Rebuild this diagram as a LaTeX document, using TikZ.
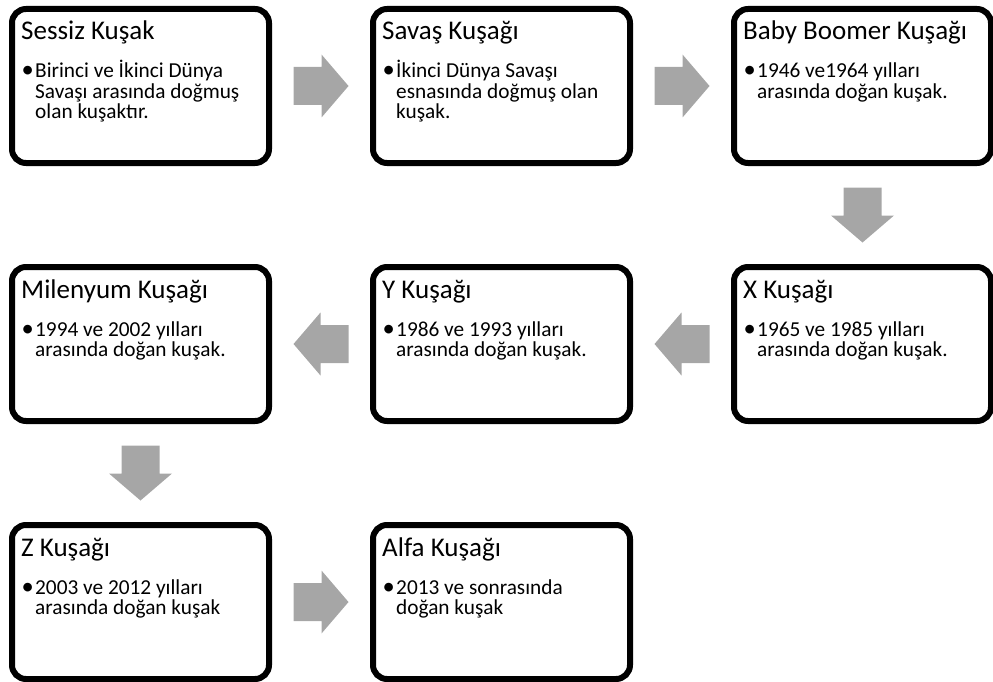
\documentclass[tikz,border=0pt]{standalone}
\usepackage{fontspec}
\setmainfont{Carlito}
\usetikzlibrary{calc}
\definecolor{arrowgray}{RGB}{166,166,166}

% block arrow between two boxes: #1 from, #2 to, #3 direction angle
\newcommand\flowarrow[3]{%
  \coordinate (#1-#2) at ($(#1)!0.5!(#2)$);
  \fill[blockarrow, shift={(#1-#2)}, rotate=#3]
    (-27.5,-19) -- (0.5,-19) -- (0.5,-31.5) -- (27.5,0)
    -- (0.5,31.5) -- (0.5,19) -- (-27.5,19) -- cycle;
}
% bulleted text block with a hanging bullet
\newcommand\bulletlines[1]{\parbox[t]{230pt}{\leavevmode\llap{\scalebox{1.15}{•}\kern1.5pt}#1}}

\begin{document}
\begin{tikzpicture}[x=1pt,y=1pt,
  genbox/.style={draw=black, fill=white, line width=6pt, rounded corners=14pt,
    minimum width=257pt, minimum height=154pt, inner sep=0pt},
  gentitle/.style={anchor=base west, inner sep=0pt, font=\fontsize{27}{32}\selectfont},
  genbody/.style={anchor=base west, inner sep=0pt, font=\fontsize{21.3}{20.3}\selectfont},
  blockarrow/.style={fill=arrowgray}]
\useasboundingbox (0,0) rectangle (993,-682);

% boxes
\node[genbox] (b1) at (140.5,-86)  {};
\node[genbox] (b2) at (501.5,-86)  {};
\node[genbox] (b3) at (862.5,-86)  {};
\node[genbox] (b4) at (862.5,-344) {};
\node[genbox] (b5) at (501.5,-344) {};
\node[genbox] (b6) at (140.5,-344) {};
\node[genbox] (b7) at (140.5,-602) {};
\node[genbox] (b8) at (501.5,-602) {};

% titles
\node[gentitle] (t1) at ($(b1.north west)+(12,-34)$) {Sessiz Kuşak};
\node[gentitle] (t2) at ($(b2.north west)+(12,-34)$) {Savaş Kuşağı};
\node[gentitle] (t3) at ($(b3.north west)+(12,-34)$) {Baby Boomer Kuşağı};
\node[gentitle] (t4) at ($(b4.north west)+(12,-34)$) {X Kuşağı};
\node[gentitle] (t5) at ($(b5.north west)+(12,-34)$) {Y Kuşağı};
\node[gentitle] (t6) at ($(b6.north west)+(12,-34)$) {Milenyum Kuşağı};
\node[gentitle] (t7) at ($(b7.north west)+(12,-34)$) {Z Kuşağı};
\node[gentitle] (t8) at ($(b8.north west)+(12,-34)$) {Alfa Kuşağı};

% bullet texts
\node[genbody] (d1) at ($(b1.north west)+(26,-72)$) {\bulletlines{Birinci ve İkinci Dünya\\Savaşı arasında doğmuş\\olan kuşaktır.}};
\node[genbody] (d2) at ($(b2.north west)+(26,-72)$) {\bulletlines{İkinci Dünya Savaşı\\esnasında doğmuş olan\\kuşak.}};
\node[genbody] (d3) at ($(b3.north west)+(26,-72)$) {\bulletlines{1946 ve1964 yılları\\arasında doğan kuşak.}};
\node[genbody] (d4) at ($(b4.north west)+(26,-72)$) {\bulletlines{1965 ve 1985 yılları\\arasında doğan kuşak.}};
\node[genbody] (d5) at ($(b5.north west)+(26,-72)$) {\bulletlines{1986 ve 1993 yılları\\arasında doğan kuşak.}};
\node[genbody] (d6) at ($(b6.north west)+(26,-72)$) {\bulletlines{1994 ve 2002 yılları\\arasında doğan kuşak.}};
\node[genbody] (d7) at ($(b7.north west)+(26,-72)$) {\bulletlines{2003 ve 2012 yılları\\arasında doğan kuşak}};
\node[genbody] (d8) at ($(b8.north west)+(26,-72)$) {\bulletlines{2013 ve sonrasında\\doğan kuşak}};

% flow arrows
\flowarrow{b1}{b2}{0}
\flowarrow{b2}{b3}{0}
\flowarrow{b3}{b4}{-90}
\flowarrow{b4}{b5}{180}
\flowarrow{b5}{b6}{180}
\flowarrow{b6}{b7}{-90}
\flowarrow{b7}{b8}{0}
\end{tikzpicture}
\end{document}
